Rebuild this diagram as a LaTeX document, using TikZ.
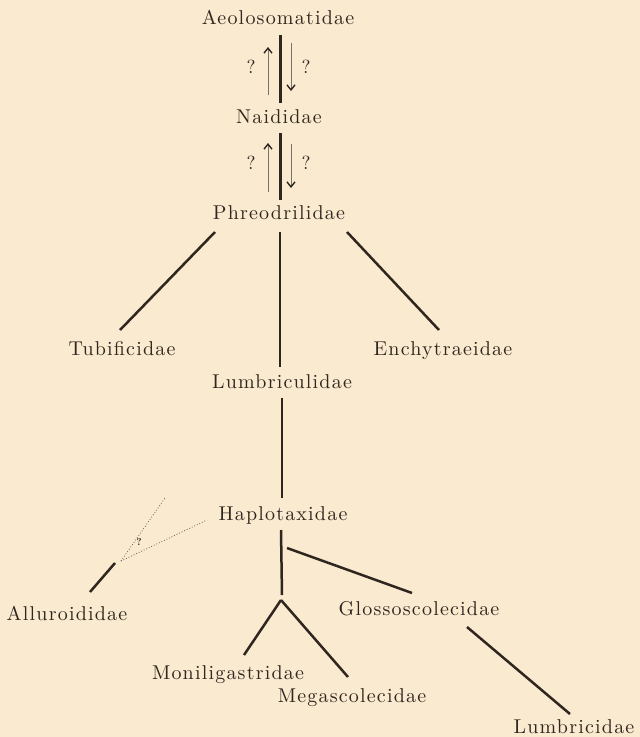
\documentclass[tikz,border=0pt]{standalone}
\usepackage{fontspec}
\setmainfont{lmroman10-regular.otf}[LetterSpace=6,BoldFont=lmroman10-bold.otf]
\usetikzlibrary{arrows.meta}
\definecolor{bg}{RGB}{250,234,207}
\definecolor{ink}{RGB}{48,38,32}
\begin{document}
\begin{tikzpicture}[x=1pt,y=-1pt,
  lab/.style={anchor=base,inner sep=0pt,text=ink,font=\fontsize{20}{23}\selectfont},
  qm/.style={inner sep=0pt,text=ink,font=\fontsize{19}{22}\selectfont},
  smallqm/.style={inner sep=0pt,text=ink,font=\fontsize{10}{12}\selectfont\bfseries},
  trunk/.style={draw=ink,line width=3pt},
  branch/.style={draw=ink,line width=2.5pt},
  thinarr/.style={draw=ink!65,line width=0.6pt,-{Straight Barb[length=5pt,width=8pt,line width=1.4pt,color=ink]}},
  dotl/.style={draw=ink!75,line width=0.8pt,dotted}]
\fill[bg] (0,0) rectangle (640,737);
\useasboundingbox (0,0) rectangle (640,737);
% labels
\node[lab] (aeo) at (278,24.5) {Aeolosomatidae};
\node[lab] (nai) at (279,123.5) {Naididae};
\node[lab] (phr) at (279,219.5) {Phreodrilidae};
\node[lab] (tub) at (122,355) {Tubificidae};
\node[lab] (enc) at (443,355) {Enchytraeidae};
\node[lab] (lbc) at (282,388) {Lumbriculidae};
\node[lab] (hap) at (283,520) {Haplotaxidae};
\node[lab] (all) at (67,620) {Alluroididae};
\node[lab] (glo) at (419,615) {Glossoscolecidae};
\node[lab] (mon) at (228,679) {Moniligastridae};
\node[lab] (meg) at (352,702) {Megascolecidae};
\node[lab] (lbr) at (574,733) {Lumbricidae};
% question marks
\node[qm] (q1) at (251,67) {?};
\node[qm] (q2) at (306,67) {?};
\node[qm] (q3) at (251,163) {?};
\node[qm] (q4) at (306,163) {?};
\node[smallqm] (q5) at (139,542) {?};
% coordinates
\coordinate (a1) at (280,35);  \coordinate (a2) at (280,103);
\coordinate (u1) at (268,95);  \coordinate (u2) at (268,47);
\coordinate (d1) at (291,43);  \coordinate (d2) at (291,91);
\coordinate (b1) at (280,133); \coordinate (b2) at (280,200);
\coordinate (u3) at (268,192); \coordinate (u4) at (268,143);
\coordinate (d3) at (291,144); \coordinate (d4) at (291,188);
\coordinate (p1) at (215,232); \coordinate (p2) at (120,330);
\coordinate (p3) at (280,232); \coordinate (p4) at (280,367);
\coordinate (p5) at (347,232); \coordinate (p6) at (439,330);
\coordinate (l1) at (282,398); \coordinate (l2) at (282,498);
\coordinate (h1) at (281,530); \coordinate (h2) at (282,595);
\coordinate (h3) at (287,548); \coordinate (h4) at (412,593);
\coordinate (f1) at (281,600); \coordinate (f2) at (244,655);
\coordinate (f3) at (348,677);
\coordinate (g1) at (467,627); \coordinate (g2) at (570,714);
\coordinate (r1) at (115,563); \coordinate (r2) at (90,592);
\coordinate (r0) at (121,561); \coordinate (r3) at (165,498);
\coordinate (r4) at (207,520);
% connectors
\draw[trunk] (a1) -- (a2);
\draw[thinarr] (u1) -- (u2);
\draw[thinarr] (d1) -- (d2);
\draw[trunk] (b1) -- (b2);
\draw[thinarr] (u3) -- (u4);
\draw[thinarr] (d3) -- (d4);
\draw[branch] (p1) -- (p2);
\draw[branch] (p3) -- (p4);
\draw[branch] (p5) -- (p6);
\draw[branch] (l1) -- (l2);
\draw[branch] (h1) -- (h2);
\draw[branch] (h3) -- (h4);
\draw[branch] (f1) -- (f2);
\draw[branch] (f1) -- (f3);
\draw[branch] (g1) -- (g2);
\draw[branch] (r1) -- (r2);
\draw[dotl] (r0) -- (r3);
\draw[dotl] (r0) -- (r4);
\end{tikzpicture}
\end{document}
